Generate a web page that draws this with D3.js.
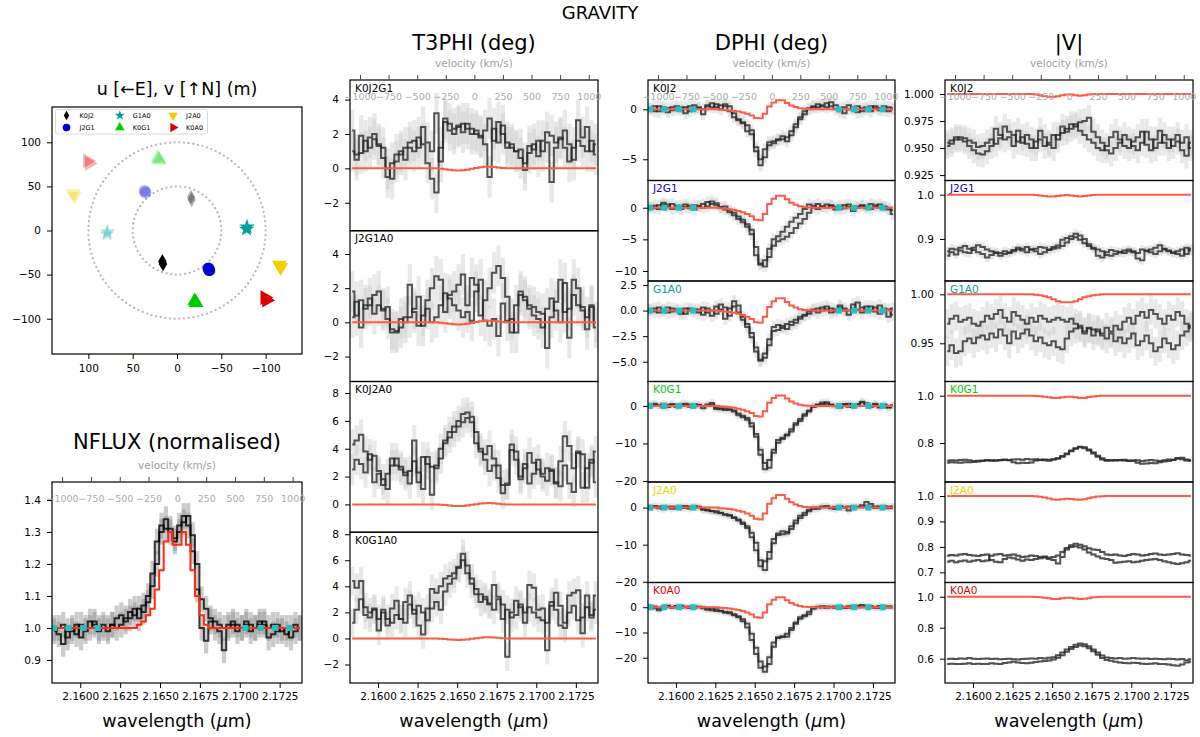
<!DOCTYPE html>
<html>
<head>
<meta charset="utf-8">
<script src="https://cdn.jsdelivr.net/npm/d3@7"></script>
<style>
  body { margin: 0; background: #fff; }
  svg { font-family: "DejaVu Sans", sans-serif; }
</style>
</head>
<body>
<div id="chart"></div>
<script>
// ---- spectral grid (micron) and axis tick values ----
var wave = [2.15837, 2.15865, 2.15893, 2.15921, 2.15949, 2.15977, 2.16005, 2.16033, 2.16061, 2.16089,
            2.16117, 2.16145, 2.16173, 2.16201, 2.16229, 2.16257, 2.16285, 2.16313, 2.16341, 2.16369,
            2.16397, 2.16425, 2.16453, 2.16481, 2.16509, 2.16537, 2.16565, 2.16593, 2.16621, 2.16649,
            2.16677, 2.16705, 2.16733, 2.16761, 2.16789, 2.16817, 2.16845, 2.16873, 2.16901, 2.16929,
            2.16957, 2.16985, 2.17013, 2.17041, 2.17069, 2.17097, 2.17125, 2.17153, 2.17181, 2.17209,
            2.17237, 2.17265, 2.17293, 2.17321, 2.17349, 2.17377];
var waveTicks = [2.1600, 2.1625, 2.1650, 2.1675, 2.1700, 2.1725];
var velTicks = [-1000, -750, -500, -250, 0, 250, 500, 750, 1000];
// continuum channels (cyan squares)
var contWave = [2.15836, 2.15926, 2.16020, 2.16110, 2.17035, 2.17130, 2.17221, 2.17312];

// ---- uv coverage ----
var baselines = ['K0J2', 'J2G1', 'G1A0', 'K0G1', 'J2A0', 'K0A0'];
var baselineColors = ['#000000', '#0000cc', '#00a0a0', '#00cc00', '#f0d000', '#dd0000'];
var uCoord = [[16.5, 15.8], [-35.5, -36.5], [-79, -78.5], [-20, -21.5], [-115.5, -117], [-99, -101]];
var vCoord = [[-35, -38], [-43, -45], [4, 1.5], [-80, -82], [-39, -42], [-76, -79]];
var uvRings = [50, 100];

// ---- NFLUX ----
var flux_a = [1.00, 0.98, 0.95, 0.99, 1.00, 0.98, 1.01, 1.00, 1.02, 1.01,
              1.00, 1.00, 0.99, 1.01, 1.00, 1.01, 1.03, 1.05, 1.04, 1.06,
              1.05, 1.08, 1.13, 1.20, 1.30, 1.34, 1.31, 1.28, 1.30, 1.33,
              1.35, 1.29, 1.20, 1.09, 1.06, 1.03, 1.02, 1.01, 1.00, 1.01,
              1.02, 1.01, 1.00, 1.02, 1.01, 1.00, 1.01, 1.02, 1.00, 1.01,
              0.99, 1.00, 0.98, 1.00, 1.01, 1.00];
var flux_b = [0.99, 1.00, 1.01, 0.97, 0.99, 1.01, 0.97, 0.99, 1.00, 1.02,
              0.99, 1.01, 1.00, 1.01, 1.03, 1.04, 1.02, 1.03, 1.06, 1.03,
              1.07, 1.10, 1.17, 1.27, 1.32, 1.31, 1.30, 1.27, 1.32, 1.35,
              1.32, 1.24, 1.12, 1.00, 0.96, 1.02, 1.00, 0.99, 0.93, 1.00,
              1.01, 0.99, 1.00, 1.01, 0.99, 1.00, 1.02, 1.01, 0.97, 0.98,
              1.01, 0.99, 1.00, 0.97, 0.99, 1.00];
var fluxModel = [1, 1, 1, 1, 1, 1, 1, 1, 1, 1,
                 1, 1, 1, 1, 1, 1, 1, 1, 1.00, 1.01,
                 1.02, 1.04, 1.06, 1.12, 1.18, 1.27, 1.30, 1.26, 1.26, 1.30,
                 1.26, 1.18, 1.10, 1.04, 1.01, 1, 1, 1, 1, 1,
                 1, 1, 1, 1, 1, 1, 1, 1, 1, 1,
                 1, 1, 1, 1, 1, 1];

// ---- T3PHI (deg) ----
var t3Names = ['K0J2G1', 'J2G1A0', 'K0J2A0', 'K0G1A0'];
var t3_K0J2G1_a = [2.2, 0.5, 1.9, 1.0, 1.8, 2.0, 1.3, 1.2, 0.0, -0.6,
                   0.4, 0.8, 1.2, 1.5, 1.6, 1.2, 2.4, 1.5, 1.0, 3.2,
                   0.4, 2.9, 2.6, 2.3, 2.5, 2.1, 2.6, 2.3, 2.0, 1.8,
                   2.2, 2.9, 1.6, 2.7, 2.0, 1.5, 1.2, 1.0, 1.1, 0.3,
                   0.9, 1.4, 0.7, 1.6, 2.1, 1.9, 1.5, 1.8, 1.2, 0.4,
                   1.2, 2.8, 1.8, 2.4, 1.0, 1.4];
var t3_K0J2G1_b = [1.0, 0.8, 0.9, 1.6, 1.2, 1.7, 1.4, 0.6, -0.5, 0.3,
                   0.8, 1.0, 0.5, 1.2, 1.0, 1.8, 1.4, 0.3, -0.6, -1.4,
                   1.2, 2.7, 2.2, 2.0, 2.4, 2.6, 2.3, 2.0, 2.2, 1.9,
                   1.4, -0.5, 2.3, 1.5, 2.5, 1.2, 1.4, 1.0, 0.6, -0.1,
                   1.3, 1.1, 1.6, 1.0, 1.5, -0.8, 1.2, 1.7, 2.2, 1.4,
                   0.5, 1.6, 1.3, 1.0, 1.6, 0.8];
var t3_J2G1A0_a = [1.8, 0.4, 1.3, 0.8, 1.0, 1.6, 1.8, 0.7, 0.9, -0.4,
                   -0.5, -0.3, 0.3, 2.2, 0.6, -0.2, 0.4, 1.3, 2.0, 2.7,
                   2.5, 0.6, 1.6, 1.8, 2.2, 2.8, 1.0, 2.6, 2.2, 0.4,
                   1.3, 2.0, 2.9, 3.3, 2.6, 1.5, -0.6, 1.0, 1.8, 1.5,
                   1.0, 0.9, 0.6, 0.5, -1.5, 0.3, 1.2, 2.5, 0.6, 0.8,
                   2.5, 2.0, 0.9, 0.3, 0.9, -0.3];
var t3_J2G1A0_b = [0.3, 1.2, -0.3, 1.0, 1.4, 0.5, 1.0, 0.8, 0.2, -0.6,
                   -0.6, 0.2, 0.0, 0.3, 0.8, 1.5, -0.2, 0.8, 0.0, 0.3,
                   1.0, 1.7, 1.4, 1.0, 0.7, 0.3, 0.6, 0.1, 1.8, 2.5,
                   0.1, -0.2, 0.2, -0.8, 1.1, 0.1, 0.2, -0.6, 1.6, 1.3,
                   0.8, 0.4, 0.2, -0.3, 0.8, 1.4, 0.7, 0.0, 2.3, -0.9,
                   1.6, 1.0, 0.7, -0.4, 1.0, 0.0];
var t3_K0J2A0_a = [4.3, 4.6, 5.0, 3.8, 3.2, 3.5, 2.4, 1.4, 2.2, 3.3,
                   2.8, 2.5, 2.1, 2.4, 4.6, 1.6, 3.4, 2.9, 2.7, 2.6,
                   4.0, 4.6, 5.2, 5.6, 6.0, 6.5, 6.6, 6.3, 5.2, 4.0,
                   3.6, 4.2, 3.3, 2.8, 0.8, 1.4, 4.3, 3.8, 2.0, 2.6,
                   3.7, 3.0, 2.5, 2.2, 2.6, 2.4, 1.5, 3.1, 4.9, 4.2,
                   2.6, 3.8, 3.6, 1.2, 3.0, 3.8];
var t3_K0J2A0_b = [2.5, 3.2, 2.9, 2.3, 3.6, 1.6, 2.2, 1.8, 1.1, 2.8,
                   3.3, 2.7, 2.3, 1.5, 3.1, 2.3, 1.1, 3.4, 0.7, 2.8,
                   3.3, 4.4, 4.8, 5.2, 5.6, 5.9, 6.2, 5.9, 4.4, 3.8,
                   3.2, 2.4, 2.8, 1.9, 1.4, 1.5, 3.9, 3.2, 1.8, 2.9,
                   1.5, 2.2, 3.2, 2.0, 1.7, 2.5, 1.6, 1.3, 2.8, 1.5,
                   0.9, 3.7, 1.2, 2.6, 3.2, 1.6];
var t3_K0G1A0_a = [4.4, 3.9, 4.4, 2.4, 2.0, 2.3, 1.5, 2.2, 1.0, 2.3,
                   2.9, 1.5, 2.8, 3.3, 2.2, 1.0, 0.3, 2.3, 3.8, 3.5,
                   4.0, 4.6, 4.8, 5.0, 5.5, 6.5, 5.0, 4.6, 3.8, 3.4,
                   3.0, 2.7, 4.1, 3.2, 2.6, -1.4, 2.0, 2.9, 2.4, 2.0,
                   4.1, 3.9, 2.2, 2.3, -0.9, 2.5, 3.5, 2.5, 1.2, 3.3,
                   3.5, 3.7, 0.4, 3.3, 1.8, 2.2];
var t3_K0G1A0_b = [1.2, 2.2, 3.0, 1.8, 1.6, 2.2, 0.6, 2.0, 1.5, 1.2,
                   1.8, 1.5, 1.2, 2.6, 1.9, 2.5, 2.0, 1.4, 2.3, 2.8,
                   2.2, 3.6, 4.2, 4.6, 5.4, 6.0, 5.6, 4.2, 3.4, 2.8,
                   3.2, 2.6, 2.2, 3.0, 1.5, 2.2, 1.6, 1.8, 2.6, 1.2,
                   2.4, 2.0, 1.6, 1.4, 1.2, 2.8, 2.2, 1.0, 0.8, 2.0,
                   2.5, 1.4, 1.6, 2.4, 1.6, 3.3];
var t3Model = [0, 0, 0, 0, 0, 0, 0, 0, 0, 0,
               0, 0, 0, 0, 0, 0, 0, 0, 0, 0,
               -0.02, -0.05, -0.08, -0.11, -0.12, -0.11, -0.08, -0.03, 0.02, 0.06,
               0.09, 0.1, 0.08, 0.05, 0.02, 0, 0, 0, 0, 0,
               0, 0, 0, 0, 0, 0, 0, 0, 0, 0,
               0, 0, 0, 0, 0, 0];

// ---- DPHI (deg) ----
var dphi_K0J2_a = [0.1, 0.3, -0.2, 0.2, 0.1, -0.1, 0.0, 0.2, -0.4, 0.3,
                   0.0, 0.1, -0.5, 0.4, 0.2, 0.5, 0.0, 0.5, 0.3, -0.4,
                   -1.1, -1.3, -1.6, -2.1, -3.8, -5.6, -4.0, -3.3, -3.2, -3.0,
                   -3.0, -2.8, -2.6, -1.8, -1.0, -0.5, 0.1, 0.3, 0.2, 0.4,
                   0.6, 0.3, 0.0, -0.2, 0.2, 0.4, 0.0, -0.3, 0.1, 0.2,
                   -0.2, 0.3, 0.1, -0.1, 0.2, 0.0];
var dphi_K0J2_b = [0.0, -0.2, 0.3, 0.0, -0.3, 0.2, 0.3, -0.1, 0.2, -0.2,
                   0.4, 0.2, 0.0, 0.3, 0.6, 0.2, 0.4, 0.3, -0.2, -0.8,
                   -1.0, -1.4, -2.2, -2.5, -4.2, -5.0, -4.8, -3.6, -3.4, -3.1,
                   -2.7, -3.2, -2.2, -1.5, -0.8, -0.2, 0.0, 0.2, 0.5, 0.3,
                   0.2, 0.7, 0.4, 0.1, -0.4, 0.0, 0.2, 0.3, -0.2, 0.0,
                   0.3, 0.1, -0.1, 0.3, -0.2, 0.1];
var dphi_J2G1_a = [0.0, 0.3, -0.2, 0.5, 0.2, 0.6, 0.3, -0.2, 0.1, 0.3,
                   -0.3, 0.2, 0.0, 0.9, 0.6, 0.4, 0.1, 0.2, -0.4, -0.8,
                   -1.4, -1.9, -2.6, -3.5, -6.2, -8.8, -9.3, -7.8, -6.0, -5.3,
                   -5.0, -4.6, -4.0, -3.2, -2.5, -1.8, -0.8, 0.0, 0.6, 0.2,
                   0.5, 0.3, -0.3, -0.2, 0.4, 0.1, -0.5, 0.2, 0.3, -0.1,
                   0.6, 0.4, 0.0, 0.2, -0.3, -1.0];
var dphi_J2G1_b = [0.2, -0.1, 0.4, 0.8, 0.5, -0.2, 0.0, 0.3, 0.5, -0.1,
                   0.4, 0.3, 0.6, 0.2, 1.0, 0.7, 0.0, -0.3, -0.7, -1.2,
                   -1.8, -2.3, -3.0, -4.2, -7.5, -9.0, -8.3, -6.5, -5.0, -4.5,
                   -3.8, -3.0, -2.2, -1.6, -1.0, -0.2, 0.5, 0.3, -0.2, 0.2,
                   0.0, 0.4, 0.1, 0.3, -0.1, 0.5, 0.2, 0.0, 0.4, 0.3,
                   -0.2, 0.1, 0.5, 0.1, 0.0, -0.4];
var dphi_G1A0_a = [0.0, 0.2, -0.2, 0.1, 0.3, -0.1, 0.0, -0.3, 0.2, 0.0,
                   0.1, -0.2, 0.3, -0.2, -0.5, 0.4, 0.1, -0.8, 0.2, 0.9,
                   0.5, -0.6, -1.3, -2.2, -3.6, -4.8, -4.6, -3.4, -1.6, -1.4,
                   -1.7, -1.3, -1.1, -0.9, -0.6, -0.4, -0.1, 0.1, 0.2, 0.0,
                   0.4, -0.2, 0.1, 0.3, 0.0, -0.4, 0.2, 0.8, 0.3, 0.1,
                   0.4, -0.1, 0.5, 0.0, -0.6, 0.2];
var dphi_G1A0_b = [0.1, -0.1, 0.3, 0.0, -0.2, 0.2, 0.1, 0.0, -0.3, 0.2,
                   -0.1, 0.1, -0.4, 0.2, 0.0, -0.3, 0.6, 0.3, -0.5, 0.4,
                   -0.2, -0.9, -1.6, -2.6, -4.0, -4.9, -4.2, -2.8, -2.0, -1.9,
                   -1.5, -1.8, -1.4, -1.2, -0.8, -0.5, -0.3, 0.0, -0.2, 0.3,
                   0.1, 0.2, -0.1, 0.5, 0.2, 0.0, 0.6, 0.1, -0.2, 0.4,
                   0.0, 0.3, -0.3, 0.2, 0.1, -0.4];
var dphi_K0G1_a = [0.5, 0.3, 0.0, 0.6, -0.3, 0.2, 0.0, 0.4, 0.2, -0.2,
                   0.5, 0.3, 0.0, 0.4, 0.8, -0.5, -0.9, -0.7, -1.0, -1.2,
                   -2.5, -3.0, -3.7, -5.5, -8.2, -11.7, -16.9, -14.4, -11.7, -9.1,
                   -8.5, -7.9, -6.8, -4.6, -3.5, -2.6, -1.5, -0.3, 0.4, 0.9,
                   0.6, 0.2, -0.1, 0.3, 0.5, -0.2, 0.4, 0.1, 0.9, 0.7,
                   0.0, 0.3, -0.4, 0.2, -0.5, 0.0];
var dphi_K0G1_b = [0.0, 0.6, 0.2, -0.4, 0.3, 0.5, -0.2, 0.1, 0.6, 0.3,
                   -0.1, 0.2, -0.6, 0.0, 0.3, -0.8, -0.6, -1.1, -0.9, -1.5,
                   -2.0, -2.6, -3.2, -4.6, -7.5, -13.0, -15.2, -16.5, -12.5, -9.8,
                   -8.8, -7.6, -6.2, -5.0, -4.0, -2.2, -1.2, 0.0, 0.2, 0.5,
                   1.0, 0.4, 0.0, -0.5, 0.3, 0.6, -0.3, 0.5, 1.1, 0.2,
                   -0.2, 0.6, 0.0, 0.4, -0.3, 0.2];
var dphi_J2A0_a = [0.2, 0.4, -0.2, 0.3, 0.0, -0.3, 0.1, 0.3, -0.1, 0.2,
                   0.4, 0.0, -0.6, -0.8, -1.0, -1.3, -1.5, -1.8, -2.2, -2.6,
                   -3.2, -4.0, -5.0, -6.8, -9.5, -14.2, -16.8, -13.8, -9.6, -7.4,
                   -7.2, -7.0, -5.8, -4.2, -2.8, -2.0, -1.0, -0.4, 0.0, 0.3,
                   0.1, -0.2, 0.2, 0.4, 0.0, -0.8, 0.3, 0.1, 0.6, 1.5,
                   1.0, 0.3, 0.0, 0.4, 0.2, -0.1];
var dphi_J2A0_b = [0.0, 0.1, 0.3, -0.4, 0.2, 0.3, -0.1, 0.0, 0.4, -0.3,
                   0.1, 0.2, -0.4, -0.6, -0.9, -1.0, -1.4, -1.9, -2.0, -2.8,
                   -3.5, -4.4, -5.5, -8.0, -11.5, -15.8, -14.5, -12.0, -8.5, -7.0,
                   -6.4, -6.6, -5.0, -3.5, -2.2, -1.4, -0.6, 0.0, -0.3, 0.1,
                   0.4, 0.0, -0.4, 0.2, 0.1, 0.3, -0.2, 0.2, 0.1, 0.5,
                   0.2, -0.1, 0.3, 0.0, -0.2, 0.3];
var dphi_K0A0_a = [0.0, 0.3, -0.5, 0.2, 0.4, -0.2, 0.3, 0.6, 0.0, -0.3,
                   0.4, 0.2, 0.0, -0.6, -1.2, -0.8, -1.4, -1.8, -2.4, -2.8,
                   -3.6, -4.8, -6.4, -10.5, -16.0, -21.5, -25.5, -22.5, -15.6, -11.9,
                   -11.5, -11.7, -9.0, -6.5, -4.6, -3.2, -2.8, -0.6, 0.0, 0.4,
                   -0.2, 0.0, 0.3, 0.1, -0.3, 0.4, 0.2, 0.0, 0.9, 0.3,
                   0.0, -0.2, 0.5, 0.1, -0.1, 0.2];
var dphi_K0A0_b = [0.2, -0.4, -1.2, 0.0, 0.6, 0.1, 0.5, -0.1, 0.2, 0.3,
                   -0.2, 0.1, -0.4, -1.0, -0.5, -1.5, -1.6, -2.2, -2.0, -3.2,
                   -4.0, -5.5, -8.0, -13.0, -18.5, -24.0, -23.5, -19.8, -14.0, -12.2,
                   -11.8, -10.5, -8.2, -6.0, -4.0, -3.6, -1.8, -0.2, 0.2, -0.1,
                   0.3, 0.2, -0.2, 0.5, 0.1, -0.2, 0.3, 0.6, 0.0, 0.2,
                   0.4, 0.0, -0.3, 0.2, 0.4, 0.0];
var dphiModel_K0J2 = [0, 0, 0, 0, 0, 0, 0, 0, 0, 0,
                      0, 0, 0, 0, 0, 0, -0.05, -0.07, -0.11, -0.16,
                      -0.23, -0.32, -0.45, -0.61, -0.86, -0.9, -0.45, 0.27, 0.68, 0.9,
                      0.9, 0.63, 0.38, 0.22, 0.11, 0.05, 0.02, 0, 0, 0,
                      0, 0, 0, 0, 0, 0, 0, 0, 0, 0,
                      0, 0, 0, 0, 0, 0];
var dphiModel_J2G1 = [0, 0, 0, 0, 0, 0, 0, 0, 0, 0,
                      0, 0, 0, 0, 0, 0, -0.1, -0.16, -0.24, -0.36,
                      -0.52, -0.72, -1.0, -1.36, -1.9, -2.0, -1.0, 0.57, 1.43, 1.9,
                      1.9, 1.33, 0.8, 0.46, 0.23, 0.1, 0.04, 0, 0, 0,
                      0, 0, 0, 0, 0, 0, 0, 0, 0, 0,
                      0, 0, 0, 0, 0, 0];
var dphiModel_G1A0 = [0, 0, 0, 0, 0, 0, 0, 0, 0, 0,
                      0, 0, 0, 0, 0, 0, -0.06, -0.1, -0.14, -0.22,
                      -0.31, -0.43, -0.6, -0.82, -1.14, -1.2, -0.6, 0.36, 0.9, 1.2,
                      1.2, 0.84, 0.5, 0.29, 0.14, 0.06, 0.02, 0, 0, 0,
                      0, 0, 0, 0, 0, 0, 0, 0, 0, 0,
                      0, 0, 0, 0, 0, 0];
var dphiModel_K0G1 = [0, 0, 0, 0, 0, 0, 0, 0, 0, 0,
                      0, 0, 0, 0, 0, 0, -0.14, -0.22, -0.34, -0.5,
                      -0.73, -1.0, -1.4, -1.9, -2.66, -2.8, -1.4, 0.84, 2.1, 2.8,
                      2.8, 1.96, 1.18, 0.67, 0.34, 0.14, 0.06, 0, 0, 0,
                      0, 0, 0, 0, 0, 0, 0, 0, 0, 0,
                      0, 0, 0, 0, 0, 0];
var dphiModel_J2A0 = [0, 0, 0, 0, 0, 0, 0, 0, 0, 0,
                      0, 0, 0, 0, 0, 0, -0.16, -0.26, -0.38, -0.58,
                      -0.83, -1.15, -1.6, -2.18, -3.04, -3.2, -1.6, 1.02, 2.55, 3.4,
                      3.4, 2.38, 1.43, 0.82, 0.41, 0.17, 0.07, 0, 0, 0,
                      0, 0, 0, 0, 0, 0, 0, 0, 0, 0,
                      0, 0, 0, 0, 0, 0];
var dphiModel_K0A0 = [0, 0, 0, 0, 0, 0, 0, 0, 0, 0,
                      0, 0, 0, 0, 0, 0, -0.21, -0.34, -0.5, -0.76,
                      -1.09, -1.51, -2.1, -2.86, -3.99, -4.2, -2.1, 1.2, 3.0, 4.0,
                      4.0, 2.8, 1.68, 0.96, 0.48, 0.2, 0.08, 0, 0, 0,
                      0, 0, 0, 0, 0, 0, 0, 0, 0, 0,
                      0, 0, 0, 0, 0, 0];

// ---- |V| ----
var vis_K0J2_a = [0.955, 0.957, 0.960, 0.958, 0.956, 0.952, 0.948, 0.945, 0.944, 0.947,
                  0.952, 0.968, 0.962, 0.958, 0.960, 0.952, 0.966, 0.955, 0.962, 0.958,
                  0.950, 0.958, 0.952, 0.955, 0.962, 0.958, 0.964, 0.968, 0.972, 0.970,
                  0.974, 0.975, 0.978, 0.965, 0.960, 0.955, 0.948, 0.945, 0.950, 0.955,
                  0.962, 0.958, 0.952, 0.948, 0.955, 0.965, 0.958, 0.950, 0.955, 0.962,
                  0.958, 0.952, 0.956, 0.948, 0.943, 0.955];
var vis_K0J2_b = [0.952, 0.954, 0.958, 0.960, 0.959, 0.957, 0.955, 0.951, 0.952, 0.955,
                  0.958, 0.954, 0.959, 0.970, 0.965, 0.962, 0.956, 0.960, 0.954, 0.950,
                  0.956, 0.966, 0.960, 0.953, 0.950, 0.962, 0.970, 0.965, 0.968, 0.972,
                  0.966, 0.962, 0.958, 0.955, 0.950, 0.948, 0.952, 0.960, 0.965, 0.958,
                  0.952, 0.950, 0.956, 0.960, 0.965, 0.953, 0.948, 0.958, 0.966, 0.955,
                  0.950, 0.958, 0.962, 0.955, 0.960, 0.950];
var vis_J2G1_a = [0.872, 0.878, 0.876, 0.880, 0.884, 0.878, 0.875, 0.870, 0.866, 0.858,
                  0.864, 0.870, 0.868, 0.872, 0.870, 0.875, 0.880, 0.874, 0.870, 0.876,
                  0.878, 0.882, 0.880, 0.876, 0.882, 0.885, 0.898, 0.902, 0.906, 0.912,
                  0.908, 0.900, 0.888, 0.880, 0.862, 0.858, 0.870, 0.875, 0.872, 0.870,
                  0.868, 0.872, 0.870, 0.856, 0.852, 0.872, 0.876, 0.880, 0.886, 0.878,
                  0.872, 0.870, 0.866, 0.862, 0.880, 0.874];
var vis_J2G1_b = [0.862, 0.870, 0.865, 0.874, 0.870, 0.868, 0.880, 0.886, 0.882, 0.876,
                  0.872, 0.868, 0.862, 0.866, 0.868, 0.872, 0.876, 0.878, 0.882, 0.876,
                  0.872, 0.866, 0.870, 0.875, 0.878, 0.880, 0.884, 0.892, 0.900, 0.904,
                  0.898, 0.890, 0.884, 0.878, 0.876, 0.872, 0.864, 0.862, 0.866, 0.870,
                  0.874, 0.876, 0.872, 0.868, 0.876, 0.874, 0.870, 0.866, 0.872, 0.876,
                  0.874, 0.868, 0.872, 0.876, 0.866, 0.878];
var vis_G1A0_a = [0.970, 0.975, 0.978, 0.972, 0.974, 0.976, 0.970, 0.968, 0.972, 0.978,
                  0.975, 0.980, 0.984, 0.976, 0.972, 0.982, 0.978, 0.974, 0.970, 0.976,
                  0.972, 0.978, 0.975, 0.972, 0.974, 0.976, 0.974, 0.972, 0.975, 0.970,
                  0.966, 0.962, 0.965, 0.958, 0.964, 0.960, 0.966, 0.962, 0.968, 0.964,
                  0.972, 0.976, 0.970, 0.978, 0.982, 0.976, 0.984, 0.980, 0.975, 0.970,
                  0.978, 0.974, 0.982, 0.978, 0.970, 0.966];
var vis_G1A0_b = [0.942, 0.948, 0.940, 0.942, 0.952, 0.955, 0.950, 0.956, 0.958, 0.954,
                  0.960, 0.956, 0.964, 0.958, 0.950, 0.962, 0.955, 0.960, 0.964, 0.958,
                  0.952, 0.956, 0.950, 0.948, 0.952, 0.946, 0.944, 0.955, 0.962, 0.965,
                  0.968, 0.960, 0.966, 0.964, 0.962, 0.958, 0.955, 0.960, 0.952, 0.956,
                  0.950, 0.955, 0.960, 0.948, 0.952, 0.958, 0.950, 0.942, 0.946, 0.955,
                  0.950, 0.944, 0.948, 0.958, 0.962, 0.968];
var vis_K0G1_a = [0.725, 0.727, 0.726, 0.728, 0.729, 0.727, 0.724, 0.725, 0.726, 0.728,
                  0.727, 0.725, 0.727, 0.729, 0.728, 0.730, 0.731, 0.729, 0.732, 0.730,
                  0.731, 0.728, 0.730, 0.729, 0.731, 0.735, 0.742, 0.752, 0.765, 0.776,
                  0.784, 0.782, 0.772, 0.760, 0.746, 0.735, 0.728, 0.726, 0.728, 0.727,
                  0.729, 0.726, 0.725, 0.727, 0.724, 0.726, 0.728, 0.726, 0.724, 0.727,
                  0.730, 0.729, 0.736, 0.738, 0.730, 0.728];
var vis_K0G1_b = [0.716, 0.718, 0.717, 0.716, 0.719, 0.718, 0.720, 0.722, 0.724, 0.726,
                  0.725, 0.727, 0.728, 0.729, 0.727, 0.718, 0.714, 0.716, 0.715, 0.717,
                  0.726, 0.729, 0.727, 0.725, 0.730, 0.734, 0.745, 0.756, 0.768, 0.778,
                  0.782, 0.778, 0.768, 0.755, 0.742, 0.730, 0.725, 0.727, 0.726, 0.728,
                  0.726, 0.724, 0.726, 0.716, 0.712, 0.713, 0.715, 0.714, 0.718, 0.722,
                  0.724, 0.728, 0.733, 0.731, 0.726, 0.724];
var vis_J2A0_a = [0.765, 0.768, 0.766, 0.770, 0.772, 0.768, 0.766, 0.764, 0.768, 0.770,
                  0.748, 0.742, 0.740, 0.752, 0.758, 0.755, 0.750, 0.745, 0.750, 0.748,
                  0.752, 0.755, 0.758, 0.752, 0.748, 0.735, 0.760, 0.790, 0.806, 0.812,
                  0.808, 0.802, 0.795, 0.790, 0.788, 0.780, 0.770, 0.768, 0.770, 0.766,
                  0.764, 0.768, 0.772, 0.770, 0.766, 0.768, 0.772, 0.774, 0.770, 0.768,
                  0.770, 0.772, 0.775, 0.770, 0.768, 0.766];
var vis_J2A0_b = [0.742, 0.745, 0.740, 0.744, 0.746, 0.742, 0.745, 0.748, 0.744, 0.746,
                  0.765, 0.770, 0.772, 0.766, 0.768, 0.770, 0.765, 0.760, 0.762, 0.766,
                  0.764, 0.760, 0.762, 0.758, 0.760, 0.766, 0.780, 0.796, 0.800, 0.802,
                  0.798, 0.790, 0.778, 0.770, 0.762, 0.755, 0.752, 0.748, 0.738, 0.740,
                  0.742, 0.744, 0.740, 0.742, 0.745, 0.748, 0.750, 0.752, 0.748, 0.744,
                  0.740, 0.736, 0.733, 0.736, 0.740, 0.745];
var vis_K0A0_a = [0.598, 0.600, 0.598, 0.602, 0.600, 0.604, 0.600, 0.598, 0.600, 0.602,
                  0.598, 0.600, 0.596, 0.598, 0.600, 0.596, 0.594, 0.598, 0.600, 0.602,
                  0.600, 0.604, 0.602, 0.606, 0.610, 0.622, 0.640, 0.660, 0.676, 0.690,
                  0.698, 0.694, 0.680, 0.660, 0.640, 0.620, 0.608, 0.604, 0.602, 0.604,
                  0.600, 0.602, 0.604, 0.602, 0.600, 0.602, 0.598, 0.600, 0.598, 0.596,
                  0.600, 0.598, 0.594, 0.598, 0.590, 0.596];
var vis_K0A0_b = [0.565, 0.568, 0.566, 0.565, 0.568, 0.570, 0.566, 0.568, 0.565, 0.566,
                  0.570, 0.568, 0.566, 0.572, 0.575, 0.580, 0.576, 0.572, 0.570, 0.574,
                  0.578, 0.582, 0.585, 0.588, 0.595, 0.606, 0.622, 0.645, 0.662, 0.676,
                  0.685, 0.680, 0.668, 0.648, 0.626, 0.605, 0.592, 0.586, 0.580, 0.576,
                  0.572, 0.570, 0.574, 0.572, 0.568, 0.566, 0.568, 0.570, 0.566, 0.565,
                  0.562, 0.558, 0.555, 0.562, 0.575, 0.580];
var visModel_K0J2 = [1, 1, 1, 1, 1, 1, 1, 1, 1, 1,
                     1, 1, 1, 1, 1, 1, 1, 1, 1, 1,
                     0.9995, 0.999, 0.998, 0.9975, 0.9975, 0.998, 0.999, 0.9995, 0.9995, 0.999,
                     0.9985, 0.999, 0.9995, 1, 1, 1, 1, 1, 1, 1,
                     1, 1, 1, 1, 1, 1, 1, 1, 1, 1,
                     1, 1, 1, 1, 1, 1];
var visModel_J2G1 = [1, 1, 1, 1, 1, 1, 1, 1, 1, 1,
                     1, 1, 1, 1, 1, 1, 1, 1, 1, 1,
                     0.999, 0.998, 0.997, 0.996, 0.996, 0.997, 0.998, 0.999, 0.998, 0.997,
                     0.996, 0.997, 0.998, 0.999, 1, 1, 1, 1, 1, 1,
                     1, 1, 1, 1, 1, 1, 1, 1, 1, 1,
                     1, 1, 1, 1, 1, 1];
var visModel_G1A0 = [1, 1, 1, 1, 1, 1, 1, 1, 1, 1,
                     1, 1, 1, 1, 1, 1, 1, 1, 1, 1,
                     0.9995, 0.999, 0.998, 0.997, 0.995, 0.993, 0.992, 0.992, 0.992, 0.993,
                     0.995, 0.997, 0.998, 0.999, 0.9995, 1, 1, 1, 1, 1,
                     1, 1, 1, 1, 1, 1, 1, 1, 1, 1,
                     1, 1, 1, 1, 1, 1];
var visModel_K0G1 = [1, 1, 1, 1, 1, 1, 1, 1, 1, 1,
                     1, 1, 1, 1, 1, 1, 1, 1, 1, 1,
                     0.999, 0.998, 0.996, 0.993, 0.99, 0.99, 0.993, 0.996, 0.996, 0.993,
                     0.99, 0.99, 0.994, 0.997, 0.999, 1, 1, 1, 1, 1,
                     1, 1, 1, 1, 1, 1, 1, 1, 1, 1,
                     1, 1, 1, 1, 1, 1];
var visModel_J2A0 = [1, 1, 1, 1, 1, 1, 1, 1, 1, 1,
                     1, 1, 1, 1, 1, 1, 1, 1, 1, 1,
                     0.999, 0.997, 0.994, 0.99, 0.986, 0.985, 0.987, 0.989, 0.988, 0.986,
                     0.985, 0.987, 0.991, 0.995, 0.998, 0.999, 1, 1, 1, 1,
                     1, 1, 1, 1, 1, 1, 1, 1, 1, 1,
                     1, 1, 1, 1, 1, 1];
var visModel_K0A0 = [1, 1, 1, 1, 1, 1, 1, 1, 1, 1,
                     1, 1, 1, 1, 1, 1, 1, 1, 1, 1,
                     0.999, 0.997, 0.994, 0.99, 0.986, 0.986, 0.99, 0.994, 0.993, 0.989,
                     0.986, 0.987, 0.991, 0.996, 0.999, 1, 1, 1, 1, 1,
                     1, 1, 1, 1, 1, 1, 1, 1, 1, 1,
                     1, 1, 1, 1, 1, 1];

// ---- layout ----
var plotVariables = {
  fontFamily: '"DejaVu Sans", sans-serif',
  waveDomain: [2.15823, 2.1739],
  lambda0: 2.16612,
  cLight: 299792.458,
  colLeft: [52, 302],
  colT3: [350, 598],
  colDphi: [648, 895],
  colVis: [945, 1193],
  top: 80,
  bottom: 683,
  dataColor: '#262626',
  modelColor: '#ff5a45',
  contColor: '#1cc3c9'
};

var svg = d3.select('#chart').append('svg')
  .attr('width', 1200)
  .attr('height', 737);

var clipCount = 0;

// one spectral panel: error bars, two data curves, the model, frame and axes
function drawPanel(p) {
  var x = d3.scaleLinear().domain(plotVariables.waveDomain).range([p.left, p.right]);
  var y = d3.scaleLinear().domain(p.dom).range([p.bottom, p.top]);
  var g = svg.append('g');
  var clipId = 'clip' + (clipCount++);
  g.append('clipPath').attr('id', clipId).append('rect')
    .attr('x', p.left).attr('y', p.top)
    .attr('width', p.right - p.left).attr('height', p.bottom - p.top);
  var inner = g.append('g').attr('clip-path', 'url(#' + clipId + ')');

  // error bars drawn as light vertical bands
  p.curves.forEach(function(vals) {
    inner.append('g').selectAll('rect')
      .data(vals)
      .join('rect')
      .attr('x', (d, i) => x(wave[i]) - 2.1)
      .attr('width', 4.2)
      .attr('y', d => y(d + p.err))
      .attr('height', d => y(d - p.err) - y(d + p.err))
      .attr('fill', p.errColor || '#cdcdcd')
      .attr('fill-opacity', p.errOpacity || 0.45);
  });

  var line = d3.line()
    .x((d, i) => x(wave[i]))
    .y(d => y(d))
    .curve(d3.curveStep);

  p.curves.forEach(function(vals) {
    inner.append('path').datum(vals)
      .attr('d', line)
      .attr('fill', 'none')
      .attr('stroke', p.lineColor || plotVariables.dataColor)
      .attr('stroke-opacity', 0.78)
      .attr('stroke-width', 2);
  });

  inner.append('path').datum(p.model)
    .attr('d', line)
    .attr('fill', 'none')
    .attr('stroke', p.modelColor || plotVariables.modelColor)
    .attr('stroke-width', 2);

  if (p.cont !== undefined) {
    inner.selectAll('rect.cont')
      .data(contWave)
      .join('rect')
      .attr('class', 'cont')
      .attr('x', d => x(d) - 3)
      .attr('y', y(p.cont) - 3)
      .attr('width', 6)
      .attr('height', 6)
      .attr('fill', plotVariables.contColor);
  }

  // frame
  g.append('rect')
    .attr('x', p.left).attr('y', p.top)
    .attr('width', p.right - p.left).attr('height', p.bottom - p.top)
    .attr('fill', 'none').attr('stroke', '#000').attr('stroke-width', 1.2);

  // left axis
  var ay = g.append('g')
    .attr('transform', `translate(${p.left},0)`)
    .call(d3.axisLeft(y).tickValues(p.ticks).tickFormat(d3.format(p.fmt)).tickSize(5).tickSizeOuter(0).tickPadding(6));
  ay.select('.domain').remove();
  ay.attr('font-family', plotVariables.fontFamily).attr('font-size', 10.5);

  // baseline / triangle name in the corner
  if (p.name) {
    g.append('text')
      .attr('x', p.left + 5)
      .attr('y', p.top + 11.5)
      .attr('font-size', 10.5)
      .attr('fill', p.nameColor || '#000')
      .text(p.name);
  }

  // velocity axis on top
  if (p.vel) {
    var velX = v => x(plotVariables.lambda0 * (1 + v / plotVariables.cLight));
    g.append('g').selectAll('line')
      .data(velTicks)
      .join('line')
      .attr('x1', velX).attr('x2', velX)
      .attr('y1', p.top - 5).attr('y2', p.top)
      .attr('stroke', '#444').attr('stroke-width', 1);
    g.append('g').selectAll('text')
      .data(velTicks)
      .join('text')
      .attr('x', velX)
      .attr('y', p.top + 20)
      .attr('text-anchor', 'middle')
      .attr('font-size', 9.5)
      .attr('fill', '#aaaaaa')
      .text(d => d3.format('d')(d));
    g.append('text')
      .attr('x', (p.left + p.right) / 2)
      .attr('y', p.top - 13)
      .attr('text-anchor', 'middle')
      .attr('font-size', 10.5)
      .attr('fill', '#a0a0a0')
      .text('velocity (km/s)');
  }

  // wavelength axis at the bottom
  if (p.waveAxis) {
    var ax = g.append('g')
      .attr('transform', `translate(0,${p.bottom})`)
      .call(d3.axisBottom(x).tickValues(waveTicks).tickFormat(d3.format('.4f')).tickSize(5).tickSizeOuter(0).tickPadding(5));
    ax.select('.domain').remove();
    ax.attr('font-family', plotVariables.fontFamily).attr('font-size', 10.5);
    var lab = g.append('text')
      .attr('x', (p.left + p.right) / 2)
      .attr('y', 727)
      .attr('text-anchor', 'middle')
      .attr('font-size', 17.5);
    lab.append('tspan').text('wavelength (');
    lab.append('tspan').attr('font-style', 'italic').text('μ');
    lab.append('tspan').text('m)');
  }
}

function columnTitle(cx, cy, txt, size) {
  svg.append('text')
    .attr('x', cx).attr('y', cy)
    .attr('text-anchor', 'middle')
    .attr('font-size', size)
    .text(txt);
}

// ---- titles ----
columnTitle(600, 19, 'GRAVITY', 18);
columnTitle(474, 50, 'T3PHI (deg)', 21);
columnTitle(771.5, 50, 'DPHI (deg)', 21);
columnTitle(1069, 50, '|V|', 21);
columnTitle(177, 95, 'u [\u2190E], v [\u2191N] (m)', 17.5);
columnTitle(177, 449, 'NFLUX (normalised)', 21);

// ---- uv plane ----
var uvX = d3.scaleLinear().domain([141, -141]).range([52, 302]);
var uvY = d3.scaleLinear().domain([-140, 140]).range([354, 107]);
var uvGroup = svg.append('g');

uvGroup.selectAll('ellipse')
  .data(uvRings)
  .join('ellipse')
  .attr('cx', uvX(0)).attr('cy', uvY(0))
  .attr('rx', d => Math.abs(uvX(d) - uvX(0)))
  .attr('ry', d => Math.abs(uvY(d) - uvY(0)))
  .attr('fill', 'none')
  .attr('stroke', '#b8b8b8')
  .attr('stroke-width', 2.2)
  .attr('stroke-linecap', 'round')
  .attr('stroke-dasharray', '0.1 4.6');

var markerTypes = [d3.symbolDiamond, d3.symbolCircle, d3.symbolStar, d3.symbolTriangle, d3.symbolTriangle, d3.symbolTriangle];
var markerRotate = [0, 0, 0, 0, 180, 90];
var markerSize = [62, 110, 75, 95, 95, 95];

baselines.forEach(function(b, k) {
  [-1, 1].forEach(function(sgn) {
    uCoord[k].forEach(function(u, j) {
      var v = vCoord[k][j];
      uvGroup.append('path')
        .attr('d', d3.symbol().type(markerTypes[k]).size(markerSize[k])())
        .attr('transform', `translate(${uvX(sgn * u)},${uvY(sgn * v)}) rotate(${markerRotate[k]})`)
        .attr('fill', baselineColors[k])
        .attr('fill-opacity', sgn > 0 ? 1 : 0.3);
    });
  });
});

uvGroup.append('rect')
  .attr('x', 52).attr('y', 107).attr('width', 250).attr('height', 247)
  .attr('fill', 'none').attr('stroke', '#000').attr('stroke-width', 1.2);

var uvAxisY = uvGroup.append('g').attr('transform', 'translate(52,0)')
  .call(d3.axisLeft(uvY).tickValues([100, 50, 0, -50, -100]).tickSize(5).tickSizeOuter(0).tickPadding(6));
uvAxisY.select('.domain').remove();
uvAxisY.attr('font-family', plotVariables.fontFamily).attr('font-size', 10.5);
var uvAxisX = uvGroup.append('g').attr('transform', 'translate(0,354)')
  .call(d3.axisBottom(uvX).tickValues([100, 50, 0, -50, -100]).tickSize(5).tickSizeOuter(0).tickPadding(6));
uvAxisX.select('.domain').remove();
uvAxisX.attr('font-family', plotVariables.fontFamily).attr('font-size', 10.5);

// legend of baselines
var legend = uvGroup.append('g');
legend.append('rect')
  .attr('x', 55.5).attr('y', 109.5).attr('width', 152).attr('height', 24.5)
  .attr('rx', 2).attr('fill', '#fff').attr('fill-opacity', 0.85)
  .attr('stroke', '#d0d0d0').attr('stroke-width', 0.8);
baselines.forEach(function(b, k) {
  var col = Math.floor(k / 2), row = k % 2;
  var lx = 66.5 + col * 53.3, ly = 115.5 + row * 12;
  legend.append('path')
    .attr('d', d3.symbol().type(markerTypes[k]).size(markerSize[k] * 0.42)())
    .attr('transform', `translate(${lx},${ly}) rotate(${markerRotate[k]})`)
    .attr('fill', baselineColors[k]);
  legend.append('text')
    .attr('x', lx + 13).attr('y', ly + 2.5)
    .attr('font-size', 6.5)
    .text(b);
});

// ---- NFLUX panel ----
drawPanel({
  left: plotVariables.colLeft[0], right: plotVariables.colLeft[1], top: 482, bottom: 683,
  dom: [0.828, 1.456], ticks: [0.9, 1.0, 1.1, 1.2, 1.3, 1.4], fmt: '.1f',
  curves: [flux_a, flux_b], model: fluxModel, err: 0.04,
  errColor: '#8c8c8c', errOpacity: 0.45, lineColor: '#000', modelColor: '#ff2a10',
  cont: 1, vel: true, waveAxis: true
});

// ---- T3PHI column ----
var t3Panels = [
  {curves: [t3_K0J2G1_a, t3_K0J2G1_b], err: 1.2, dom: [-3.63, 5.14], ticks: [-2, 0, 2, 4]},
  {curves: [t3_J2G1A0_a, t3_J2G1A0_b], err: 1.2, dom: [-3.46, 5.36], ticks: [-2, 0, 2, 4]},
  {curves: [t3_K0J2A0_a, t3_K0J2A0_b], err: 1.1, dom: [-2.0, 8.83], ticks: [0, 2, 4, 6, 8]},
  {curves: [t3_K0G1A0_a, t3_K0G1A0_b], err: 1.1, dom: [-3.42, 8.15], ticks: [-2, 0, 2, 4, 6, 8]}
];
var t3Height = (plotVariables.bottom - plotVariables.top) / t3Panels.length;
t3Panels.forEach(function(p, i) {
  drawPanel(Object.assign(p, {
    left: plotVariables.colT3[0], right: plotVariables.colT3[1],
    top: plotVariables.top + i * t3Height, bottom: plotVariables.top + (i + 1) * t3Height,
    fmt: 'd', model: t3Model, name: t3Names[i],
    vel: i === 0, waveAxis: i === t3Panels.length - 1
  }));
});

// ---- DPHI column ----
var dphiPanels = [
  {curves: [dphi_K0J2_a, dphi_K0J2_b], model: dphiModel_K0J2, err: 0.6, dom: [-7.12, 2.93], ticks: [0, -5], fmt: 'd'},
  {curves: [dphi_J2G1_a, dphi_J2G1_b], model: dphiModel_J2G1, err: 0.9, dom: [-11.58, 4.3], ticks: [0, -5, -10], fmt: 'd'},
  {curves: [dphi_G1A0_a, dphi_G1A0_b], model: dphiModel_G1A0, err: 0.6, dom: [-6.93, 2.89], ticks: [2.5, 0, -2.5, -5], fmt: '.1f'},
  {curves: [dphi_K0G1_a, dphi_K0G1_b], model: dphiModel_K0G1, err: 1.0, dom: [-20.27, 6.5], ticks: [0, -10, -20], fmt: 'd'},
  {curves: [dphi_J2A0_a, dphi_J2A0_b], model: dphiModel_J2A0, err: 1.0, dom: [-20.2, 6.9], ticks: [0, -10, -20], fmt: 'd'},
  {curves: [dphi_K0A0_a, dphi_K0A0_b], model: dphiModel_K0A0, err: 1.3, dom: [-30.0, 9.8], ticks: [0, -10, -20], fmt: 'd'}
];
var rowHeight = (plotVariables.bottom - plotVariables.top) / dphiPanels.length;
dphiPanels.forEach(function(p, i) {
  drawPanel(Object.assign(p, {
    left: plotVariables.colDphi[0], right: plotVariables.colDphi[1],
    top: plotVariables.top + i * rowHeight, bottom: plotVariables.top + (i + 1) * rowHeight,
    name: baselines[i], nameColor: baselineColors[i], cont: 0,
    vel: i === 0, waveAxis: i === dphiPanels.length - 1
  }));
});

// ---- |V| column ----
var visPanels = [
  {curves: [vis_K0J2_a, vis_K0J2_b], model: visModel_K0J2, err: 0.012, dom: [0.920, 1.013], ticks: [1.0, 0.975, 0.95, 0.925], fmt: '.3f'},
  {curves: [vis_J2G1_a, vis_J2G1_b], model: visModel_J2G1, err: 0.010, dom: [0.805, 1.032], ticks: [1.0, 0.9], fmt: '.1f'},
  {curves: [vis_G1A0_a, vis_G1A0_b], model: visModel_G1A0, err: 0.015, dom: [0.911, 1.0136], ticks: [1.0, 0.95], fmt: '.2f'},
  {curves: [vis_K0G1_a, vis_K0G1_b], model: visModel_K0G1, err: 0.005, dom: [0.635, 1.06], ticks: [1.0, 0.8], fmt: '.1f'},
  {curves: [vis_J2A0_a, vis_J2A0_b], model: visModel_J2A0, err: 0.006, dom: [0.66, 1.055], ticks: [1.0, 0.9, 0.8, 0.7], fmt: '.1f'},
  {curves: [vis_K0A0_a, vis_K0A0_b], model: visModel_K0A0, err: 0.006, dom: [0.443, 1.092], ticks: [1.0, 0.8, 0.6], fmt: '.1f'}
];
visPanels.forEach(function(p, i) {
  drawPanel(Object.assign(p, {
    left: plotVariables.colVis[0], right: plotVariables.colVis[1],
    top: plotVariables.top + i * rowHeight, bottom: plotVariables.top + (i + 1) * rowHeight,
    name: baselines[i], nameColor: baselineColors[i],
    vel: i === 0, waveAxis: i === visPanels.length - 1
  }));
});
</script>
</body>
</html>
